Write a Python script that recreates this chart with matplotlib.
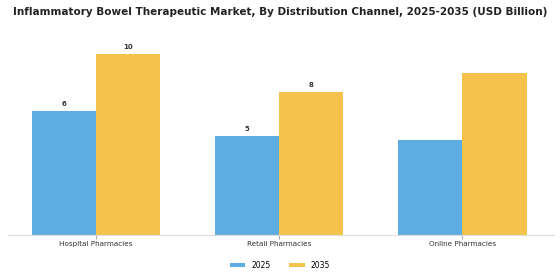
import matplotlib
matplotlib.use("Agg")
import matplotlib.pyplot as plt
import numpy as np

categories = ["Hospital Pharmacies", "Retail Pharmacies", "Online Pharmacies"]
series_names = ["2025", "2035"]
values_2025 = [6.85, 5.47, 5.25]
values_2035 = [10.0, 7.90, 8.95]
labels_2025 = ["6", "5", ""]
labels_2035 = ["10", "8", ""]

colors = ["#5DADE2", "#F5C24C"]

fig = plt.figure(figsize=(5.6, 2.8), dpi=100)
ax = fig.add_axes([8/560, 1-235/280, (554-8)/560, (235-40)/280])

x = np.arange(len(categories))
w = 0.35
b1 = ax.bar(x - w/2, values_2025, w, color=colors[0], label=series_names[0])
b2 = ax.bar(x + w/2, values_2035, w, color=colors[1], label=series_names[1])

for bars, labs in ((b1, labels_2025), (b2, labels_2035)):
    for bar, lab in zip(bars, labs):
        if lab:
            ax.annotate(lab, (bar.get_x() + bar.get_width()/2, bar.get_height()),
                        xytext=(0, 3), textcoords="offset points",
                        ha="center", va="bottom", fontsize=5, fontweight="bold",
                        color="#333333")

ax.set_xlim(-0.48, 2.5)
ax.set_ylim(0, (235-40)/18.1)
ax.set_xticks(x)
ax.set_xticklabels(categories, fontsize=5.2, color="#333333")
ax.tick_params(axis="x", length=3, width=0.6, color="#999999", pad=1.5)
ax.set_yticks([])
for s in ("top", "right", "left"):
    ax.spines[s].set_visible(False)
ax.spines["bottom"].set_color("#dddddd")
ax.spines["bottom"].set_linewidth(0.8)

fig.suptitle("Inflammatory Bowel Therapeutic Market, By Distribution Channel, 2025-2035 (USD Billion)",
             fontsize=7.5, fontweight="bold", y=1-12/280, va="center", color="#222222")

fig.legend(handles=[b1, b2], labels=series_names, loc="center", bbox_to_anchor=(0.5, 1-265/280),
           ncol=2, frameon=False, fontsize=5.5, handlelength=2.0, handleheight=0.5,
           columnspacing=2.5, handletextpad=0.8)

fig.savefig("out.png", dpi=100)
